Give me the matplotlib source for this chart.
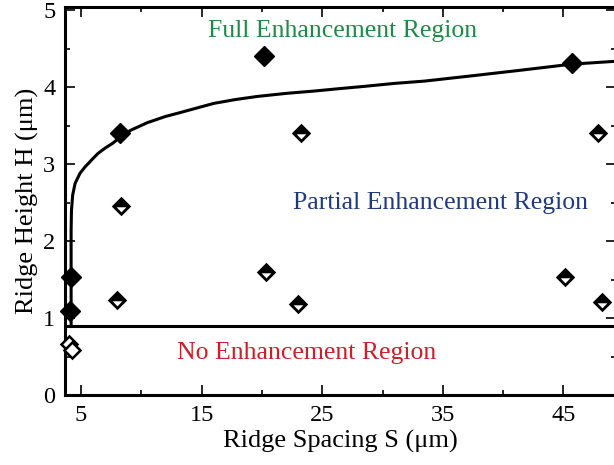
import matplotlib
matplotlib.use("Agg")
import matplotlib.pyplot as plt
from matplotlib.path import Path
from matplotlib.ticker import MultipleLocator

# full enhancement (filled diamonds)
full_s = [4.1, 4.2, 8.2, 20.2, 45.7]
full_h = [1.09, 1.54, 3.41, 4.40, 4.31]

# partial enhancement (half-filled diamonds)
part_s = [8.3, 8.0, 20.3, 23.0, 23.2, 45.1, 48.2, 47.9]
part_h = [2.45, 1.24, 1.60, 1.18, 3.41, 1.54, 1.21, 3.41]

# no enhancement (open diamonds)
none_s = [4.0, 4.25]
none_h = [0.66, 0.59]

# boundary curve between full / partial
curve_s = [4.17, 4.17, 4.2, 4.3, 4.5, 4.9, 5.3, 5.9, 6.4, 7.0, 7.6, 8.4, 9.1,
           10.5, 12.0, 13.2, 14.6, 16.0, 17.8, 19.6, 22.0, 24.3, 26.3, 28.4,
           31.0, 33.5, 37.5, 41.4, 45.7, 49.6]
curve_h = [0.90, 2.14, 2.40, 2.60, 2.75, 2.88, 2.96, 3.06, 3.14, 3.21, 3.27,
           3.37, 3.44, 3.54, 3.62, 3.67, 3.73, 3.79, 3.84, 3.88, 3.92, 3.95,
           3.98, 4.01, 4.05, 4.08, 4.15, 4.22, 4.30, 4.34]
h_threshold = 0.90

# black diamond with a white triangle cut out of its lower half
# (hole drawn with opposite winding so it stays empty)
half_marker = Path(
    [(0, 1), (1, 0), (0, -1), (-1, 0), (0, 1),
     (-0.5, -0.08), (0, -0.6), (0.5, -0.08), (-0.5, -0.08)],
    [Path.MOVETO, Path.LINETO, Path.LINETO, Path.LINETO, Path.CLOSEPOLY,
     Path.MOVETO, Path.LINETO, Path.LINETO, Path.CLOSEPOLY],
)

plt.rcParams["font.family"] = ["Liberation Serif", "DejaVu Serif"]

fig = plt.figure(figsize=(6.14, 4.65), dpi=100)
ax = fig.add_axes([0.106, 0.1505, 0.898, 0.834])

ax.axhline(h_threshold, color="black", lw=2.2, zorder=2)
ax.plot(curve_s, curve_h, color="black", lw=2.2, zorder=2)

ax.plot(full_s, full_h, "D", ms=10.5, color="black", zorder=3, clip_on=False)
ax.plot(part_s, part_h, marker=half_marker, ms=14, color="black",
        markeredgewidth=0, ls="none", zorder=3)
ax.plot(none_s, none_h, "D", ms=8.5, markerfacecolor="white",
        markeredgecolor="black", mew=1.8, ls="none", zorder=3, clip_on=False)

ax.text(26.7, 4.73, "Full Enhancement Region", color="#1f8a45",
        fontsize=18.5, ha="center", va="center")
ax.text(34.8, 2.49, "Partial Enhancement Region", color="#1f3a80",
        fontsize=18.5, ha="center", va="center")
ax.text(23.7, 0.55, "No Enhancement Region", color="#cc1f2a",
        fontsize=18.5, ha="center", va="center")

ax.set_xlim(3.67, 49.4)
ax.set_ylim(0, 5.04)
ax.set_xticks([5, 15, 25, 35, 45])
ax.xaxis.set_minor_locator(MultipleLocator(5))
ax.yaxis.set_major_locator(MultipleLocator(1))
ax.yaxis.set_minor_locator(MultipleLocator(0.5))
ax.tick_params(which="both", direction="in", top=True, right=True,
               labelsize=17.5, width=1.2)
ax.tick_params(which="major", length=7, pad=7)
ax.tick_params(which="minor", length=3.5)
for sp in ax.spines.values():
    sp.set_linewidth(2.2)

ax.set_xlabel("Ridge Spacing S (μm)", fontsize=19, labelpad=3)
ax.set_ylabel("Ridge Height H (μm)", fontsize=19, labelpad=3)

fig.savefig("out.png", dpi=100)
